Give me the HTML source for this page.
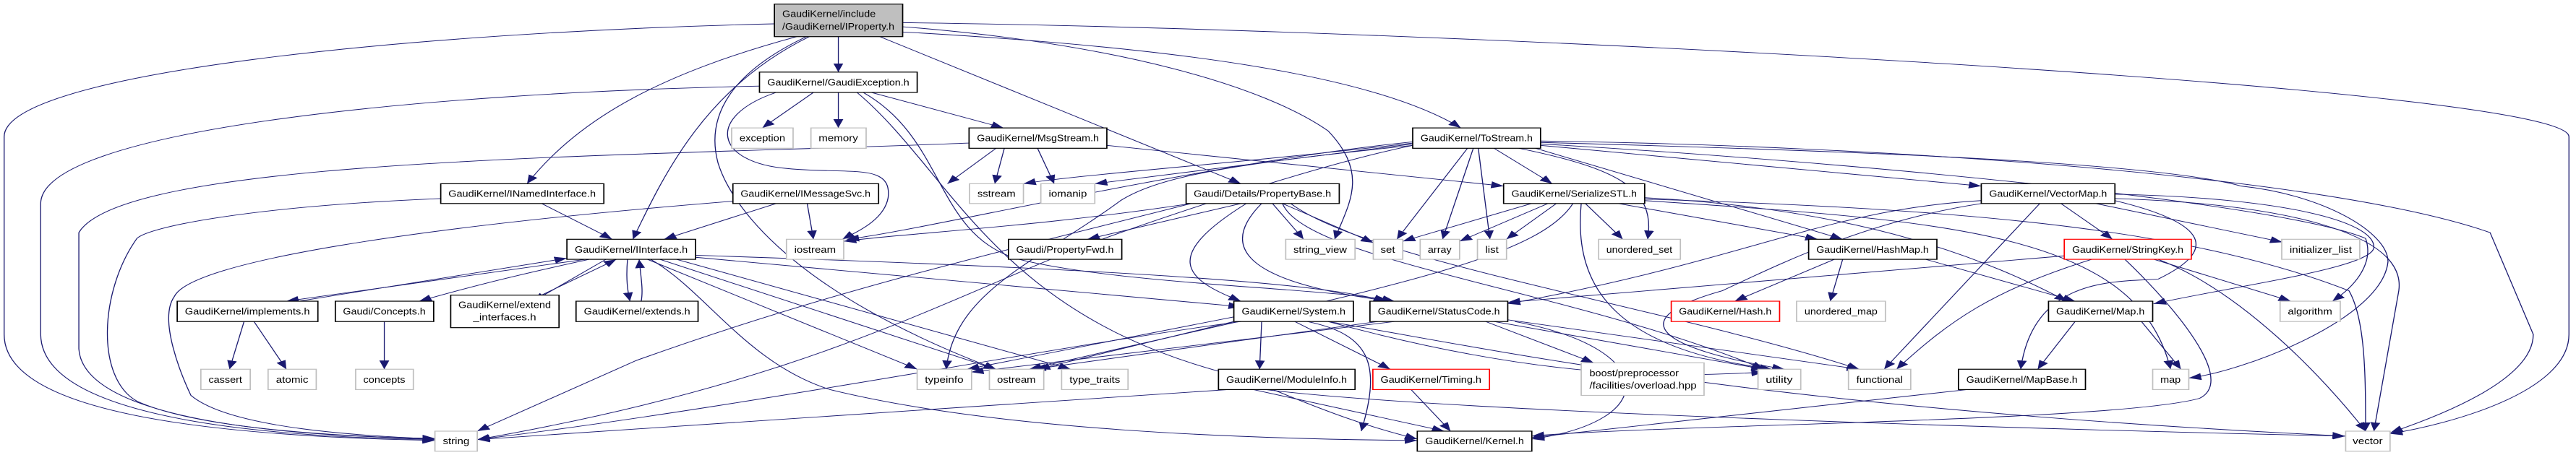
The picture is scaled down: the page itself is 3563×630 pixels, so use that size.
<!DOCTYPE html>
<html><head><meta charset="utf-8"><style>
html,body{margin:0;padding:0;background:#fff;}
svg{display:block}
text{font-family:"Liberation Sans",sans-serif;font-size:31px;fill:#000}
</style></head><body>
<svg width="3563" height="630" viewBox="0 0 6207 1565" preserveAspectRatio="none" xmlns="http://www.w3.org/2000/svg">
<defs><marker id="a" markerUnits="userSpaceOnUse" markerWidth="30" markerHeight="24" viewBox="0 0 10 8" refX="10" refY="4" orient="auto"><path d="M0,0 L10,4 L0,8 z" fill="#191970"/></marker></defs>
<g fill="none" stroke="#191970" stroke-width="2.3" marker-end="url(#a)">
<path d="M2020,126 L2020,248"/>
<path d="M1866,82 C1000,110 10,250 10,470 L10,1150 C10,1420 500,1500 1048,1515"/>
<path d="M2175,78 C3500,100 6190,300 6190,470 L6190,1150 C6190,1350 5900,1460 5759,1492"/>
<path d="M1920,126 C1600,250 1400,400 1270,632"/>
<path d="M1950,126 C1700,300 1600,600 1525,823"/>
<path d="M2120,126 L2990,632"/>
<path d="M2175,110 C2800,160 3300,250 3520,440"/>
<path d="M2175,92 C2700,150 3050,300 3200,450 C3300,600 3250,700 3216,823"/>
<path d="M1943,126 C1760,250 1700,400 1730,560 C1760,700 1900,1000 2400,1270"/>
<path d="M1830,296 C1000,320 100,450 98,700 L98,1150 C100,1400 500,1500 1048,1512"/>
<path d="M1960,318 L1837,440"/>
<path d="M2020,318 L2020,440"/>
<path d="M2100,318 L2418,440"/>
<path d="M1870,318 C1700,400 1720,560 1900,580 C2050,600 2150,560 2140,680 C2130,760 2060,800 2030,823"/>
<path d="M2080,318 C2280,480 2250,800 2450,890 C2700,980 3200,990 3360,1036"/>
<path d="M2065,318 C2300,600 2400,1100 3000,1300 C3200,1420 3300,1470 3415,1510"/>
<path d="M2420,510 L2397,632"/>
<path d="M2500,510 L2540,632"/>
<path d="M2400,510 L2283,632"/>
<path d="M2335,492 C1500,540 300,540 190,800 L190,1200 C200,1420 600,1500 1048,1508"/>
<path d="M2667,500 L3623,640"/>
<path d="M1870,700 L1600,823"/>
<path d="M1945,700 L1960,823"/>
<path d="M1766,692 C1000,780 460,900 420,1020 C380,1100 440,1300 460,1360 C560,1480 900,1500 1048,1510"/>
<path d="M1305,700 L1475,823"/>
<path d="M1062,683 C600,710 360,780 330,820 C240,1000 230,1300 330,1380 C500,1490 900,1500 1048,1512"/>
<path d="M1420,890 L690,1036"/>
<path d="M720,1036 L1366,888"/>
<path d="M1420,892 C1200,960 1100,1000 1010,1036"/>
<path d="M1460,892 L1285,1036"/>
<path d="M1305,1015 L1485,892"/>
<path d="M1512,892 C1508,960 1512,1000 1518,1036"/>
<path d="M1545,1036 C1550,1000 1545,960 1540,892"/>
<path d="M2870,700 C2400,870 2000,1000 1533,1240 L1150,1483"/>
<path d="M1560,892 L2210,1270"/>
<path d="M1590,892 L2400,1270"/>
<path d="M1630,892 L2580,1270"/>
<path d="M1676,885 L2990,1055"/>
<path d="M1676,878 C2800,930 3200,980 3340,1036"/>
<path d="M1568,892 C1700,1000 1800,1250 2000,1340 C2400,1480 3000,1510 3415,1515"/>
<path d="M2870,700 C2500,780 2200,800 2033,830"/>
<path d="M2990,700 L2620,823"/>
<path d="M3066,700 L3141,823"/>
<path d="M3090,700 L3309,835"/>
<path d="M3003,700 C2800,880 2850,960 2990,1036"/>
<path d="M3040,700 C2900,900 3100,990 3350,1036"/>
<path d="M3090,700 C3150,900 3800,1000 4250,1270"/>
<path d="M3110,700 C3300,900 4000,1050 4480,1270"/>
<path d="M3404,500 C3000,560 2800,600 2700,690 C2500,900 2300,1000 2280,1270"/>
<path d="M3404,488 C2900,560 2200,800 2040,823"/>
<path d="M3404,492 C3000,560 2600,600 2466,632"/>
<path d="M3404,495 L2638,632"/>
<path d="M3536,510 L3366,823"/>
<path d="M3550,510 L3476,823"/>
<path d="M3562,510 L3590,823"/>
<path d="M3600,510 L3740,632"/>
<path d="M3660,510 C3900,580 3990,650 3970,823"/>
<path d="M3700,510 L4440,823"/>
<path d="M3712,500 L4774,640"/>
<path d="M3404,500 C3200,560 2900,700 2700,800 C2300,1000 2000,1300 1150,1512"/>
<path d="M3712,485 C4500,500 5600,600 6000,800 L6104,1150 C6104,1300 5900,1420 5760,1488"/>
<path d="M3712,490 C4500,520 5200,560 5400,640 C5600,670 5754,800 5754,900 C5740,1100 5400,1280 5274,1300"/>
<path d="M3712,495 C4500,560 5500,700 5700,820 C5720,900 5680,980 5620,1036"/>
<path d="M3690,700 L3380,830"/>
<path d="M3730,700 L3517,830"/>
<path d="M3750,700 L3630,823"/>
<path d="M3820,700 L3910,823"/>
<path d="M3900,700 L4380,823"/>
<path d="M3963,680 C4500,720 4800,900 4980,1036"/>
<path d="M3963,690 C4700,760 5150,800 5230,1270"/>
<path d="M3963,685 C4800,720 5300,800 5660,1000 C5700,1100 5700,1300 5700,1483"/>
<path d="M3790,700 C3700,900 3300,1000 2480,1270"/>
<path d="M3810,700 C3790,1000 3900,1200 4270,1270"/>
<path d="M4966,700 L5090,823"/>
<path d="M5050,700 L5500,833"/>
<path d="M5096,683 C5500,700 5800,800 5780,1000 L5720,1483"/>
<path d="M5096,690 C5300,760 5360,850 5200,960 C5100,970 4900,950 4869,1270"/>
<path d="M5096,668 C5500,680 5720,760 5720,850 C5720,920 5400,980 5189,1045"/>
<path d="M4915,700 L4540,1270"/>
<path d="M4774,690 C4400,720 4200,900 3633,1045"/>
<path d="M4774,700 C4500,760 4300,900 4150,1000 C3900,1100 4000,1200 4300,1270"/>
<path d="M5200,892 C5400,1000 5600,1300 5700,1483"/>
<path d="M5190,892 L5520,1036"/>
<path d="M5120,892 C5200,1000 5400,1300 5300,1370 C5100,1450 4000,1460 3691,1500"/>
<path d="M5040,892 C4800,1000 4700,1100 4570,1270"/>
<path d="M4974,880 L3633,1040"/>
<path d="M4420,892 L4180,1036"/>
<path d="M4440,892 L4410,1036"/>
<path d="M4640,892 L5000,1036"/>
<path d="M5000,1106 L4910,1270"/>
<path d="M5160,1106 L5255,1270"/>
<path d="M4740,1340 L3691,1505"/>
<path d="M3040,1106 L3035,1270"/>
<path d="M3120,1106 L3350,1270"/>
<path d="M3150,1106 C3300,1150 3330,1250 3280,1483"/>
<path d="M2990,1106 C2500,1200 1800,1400 1150,1512"/>
<path d="M2973,1090 L2330,1270"/>
<path d="M2990,1100 L2500,1270"/>
<path d="M3200,1106 C3700,1300 4000,1300 4250,1280"/>
<path d="M3200,1106 C3600,1200 4200,1400 5650,1500"/>
<path d="M3580,1106 L3840,1248"/>
<path d="M3600,1106 L4250,1270"/>
<path d="M3633,1100 L4480,1270"/>
<path d="M3360,1106 L2340,1280"/>
<path d="M3320,1106 L2490,1270"/>
<path d="M3650,1106 C4000,1200 4000,1450 3691,1510"/>
<path d="M2960,1340 L1150,1512"/>
<path d="M3020,1340 L3480,1483"/>
<path d="M3050,1340 C3500,1420 5000,1480 5652,1500"/>
<path d="M3400,1340 L3495,1483"/>
<path d="M588,1106 L553,1270"/>
<path d="M612,1106 L690,1270"/>
<path d="M926,1106 L926,1270"/>
</g>
<g stroke-width="3" fill="#fff">
<rect x="1866" y="14" width="309" height="112" fill="#bfbfbf" stroke="#000"/>
<rect x="1830" y="248" width="380" height="70" stroke="#000"/>
<rect x="1763" y="440" width="148" height="70" stroke="#bfbfbf"/>
<rect x="1954" y="440" width="133" height="70" stroke="#bfbfbf"/>
<rect x="2335" y="440" width="332" height="70" stroke="#000"/>
<rect x="3404" y="440" width="308" height="70" stroke="#000"/>
<rect x="1062" y="632" width="393" height="68" stroke="#000"/>
<rect x="1766" y="632" width="351" height="68" stroke="#000"/>
<rect x="2336" y="632" width="130" height="68" stroke="#bfbfbf"/>
<rect x="2508" y="632" width="130" height="68" stroke="#bfbfbf"/>
<rect x="2858" y="632" width="369" height="68" stroke="#000"/>
<rect x="3623" y="632" width="340" height="68" stroke="#000"/>
<rect x="4774" y="632" width="322" height="68" stroke="#000"/>
<rect x="1366" y="823" width="310" height="69" stroke="#000"/>
<rect x="1895" y="823" width="138" height="69" stroke="#bfbfbf"/>
<rect x="2430" y="823" width="273" height="69" stroke="#000"/>
<rect x="3098" y="823" width="167" height="69" stroke="#bfbfbf"/>
<rect x="3309" y="823" width="71" height="69" stroke="#bfbfbf"/>
<rect x="3422" y="823" width="95" height="69" stroke="#bfbfbf"/>
<rect x="3560" y="823" width="70" height="69" stroke="#bfbfbf"/>
<rect x="3852" y="823" width="197" height="69" stroke="#bfbfbf"/>
<rect x="4358" y="823" width="309" height="69" stroke="#000"/>
<rect x="4974" y="823" width="306" height="69" stroke="#ff0000"/>
<rect x="5498" y="823" width="188" height="69" stroke="#bfbfbf"/>
<rect x="427" y="1036" width="339" height="70" stroke="#000"/>
<rect x="808" y="1036" width="237" height="70" stroke="#000"/>
<rect x="1086" y="1015" width="261" height="112" stroke="#000"/>
<rect x="1388" y="1036" width="294" height="70" stroke="#000"/>
<rect x="2973" y="1036" width="288" height="70" stroke="#000"/>
<rect x="3301" y="1036" width="332" height="70" stroke="#000"/>
<rect x="4027" y="1036" width="261" height="70" stroke="#ff0000"/>
<rect x="4329" y="1036" width="214" height="70" stroke="#bfbfbf"/>
<rect x="4936" y="1036" width="251" height="70" stroke="#000"/>
<rect x="5494" y="1036" width="145" height="70" stroke="#bfbfbf"/>
<rect x="484" y="1270" width="119" height="70" stroke="#bfbfbf"/>
<rect x="646" y="1270" width="116" height="70" stroke="#bfbfbf"/>
<rect x="857" y="1270" width="139" height="70" stroke="#bfbfbf"/>
<rect x="2210" y="1270" width="131" height="70" stroke="#bfbfbf"/>
<rect x="2384" y="1270" width="131" height="70" stroke="#bfbfbf"/>
<rect x="2558" y="1270" width="160" height="70" stroke="#bfbfbf"/>
<rect x="2936" y="1270" width="329" height="70" stroke="#000"/>
<rect x="3308" y="1270" width="281" height="70" stroke="#ff0000"/>
<rect x="3810" y="1248" width="296" height="112" stroke="#bfbfbf"/>
<rect x="4236" y="1270" width="103" height="70" stroke="#bfbfbf"/>
<rect x="4454" y="1270" width="150" height="70" stroke="#bfbfbf"/>
<rect x="4719" y="1270" width="306" height="70" stroke="#000"/>
<rect x="5187" y="1270" width="87" height="70" stroke="#bfbfbf"/>
<rect x="1048" y="1483" width="102" height="69" stroke="#bfbfbf"/>
<rect x="3415" y="1483" width="276" height="69" stroke="#000"/>
<rect x="5652" y="1483" width="107" height="69" stroke="#bfbfbf"/>
</g>
<g text-anchor="middle" lengthAdjust="spacingAndGlyphs">
<text x="1885" y="59" text-anchor="start" textLength="225" lengthAdjust="spacingAndGlyphs">GaudiKernel/include</text>
<text x="1885" y="102" text-anchor="start" textLength="270" lengthAdjust="spacingAndGlyphs">/GaudiKernel/IProperty.h</text>
<text x="2020" y="294" textLength="342" lengthAdjust="spacingAndGlyphs">GaudiKernel/GaudiException.h</text>
<text x="1837" y="486" textLength="110" lengthAdjust="spacingAndGlyphs">exception</text>
<text x="2020" y="486" textLength="95" lengthAdjust="spacingAndGlyphs">memory</text>
<text x="2501" y="486" textLength="294" lengthAdjust="spacingAndGlyphs">GaudiKernel/MsgStream.h</text>
<text x="3558" y="486" textLength="270" lengthAdjust="spacingAndGlyphs">GaudiKernel/ToStream.h</text>
<text x="1258" y="677" textLength="355" lengthAdjust="spacingAndGlyphs">GaudiKernel/INamedInterface.h</text>
<text x="1941" y="677" textLength="313" lengthAdjust="spacingAndGlyphs">GaudiKernel/IMessageSvc.h</text>
<text x="2401" y="677" textLength="92" lengthAdjust="spacingAndGlyphs">sstream</text>
<text x="2573" y="677" textLength="92" lengthAdjust="spacingAndGlyphs">iomanip</text>
<text x="3042" y="677" textLength="331" lengthAdjust="spacingAndGlyphs">Gaudi/Details/PropertyBase.h</text>
<text x="3793" y="677" textLength="302" lengthAdjust="spacingAndGlyphs">GaudiKernel/SerializeSTL.h</text>
<text x="4935" y="677" textLength="284" lengthAdjust="spacingAndGlyphs">GaudiKernel/VectorMap.h</text>
<text x="1521" y="869" textLength="272" lengthAdjust="spacingAndGlyphs">GaudiKernel/IInterface.h</text>
<text x="1964" y="869" textLength="100" lengthAdjust="spacingAndGlyphs">iostream</text>
<text x="2566" y="869" textLength="235" lengthAdjust="spacingAndGlyphs">Gaudi/PropertyFwd.h</text>
<text x="3181" y="869" textLength="129" lengthAdjust="spacingAndGlyphs">string_view</text>
<text x="3344" y="869" textLength="35" lengthAdjust="spacingAndGlyphs">set</text>
<text x="3469" y="869" textLength="57" lengthAdjust="spacingAndGlyphs">array</text>
<text x="3595" y="869" textLength="32" lengthAdjust="spacingAndGlyphs">list</text>
<text x="3950" y="869" textLength="159" lengthAdjust="spacingAndGlyphs">unordered_set</text>
<text x="4512" y="869" textLength="271" lengthAdjust="spacingAndGlyphs">GaudiKernel/HashMap.h</text>
<text x="5127" y="869" textLength="268" lengthAdjust="spacingAndGlyphs">GaudiKernel/StringKey.h</text>
<text x="5592" y="869" textLength="150" lengthAdjust="spacingAndGlyphs">initializer_list</text>
<text x="596" y="1082" textLength="301" lengthAdjust="spacingAndGlyphs">GaudiKernel/implements.h</text>
<text x="926" y="1082" textLength="199" lengthAdjust="spacingAndGlyphs">Gaudi/Concepts.h</text>
<text x="1216" y="1060" textLength="223" lengthAdjust="spacingAndGlyphs">GaudiKernel/extend</text>
<text x="1216" y="1102" textLength="152" lengthAdjust="spacingAndGlyphs">_interfaces.h</text>
<text x="1535" y="1082" textLength="256" lengthAdjust="spacingAndGlyphs">GaudiKernel/extends.h</text>
<text x="3117" y="1082" textLength="250" lengthAdjust="spacingAndGlyphs">GaudiKernel/System.h</text>
<text x="3467" y="1082" textLength="294" lengthAdjust="spacingAndGlyphs">GaudiKernel/StatusCode.h</text>
<text x="4157" y="1082" textLength="223" lengthAdjust="spacingAndGlyphs">GaudiKernel/Hash.h</text>
<text x="4436" y="1082" textLength="176" lengthAdjust="spacingAndGlyphs">unordered_map</text>
<text x="5061" y="1082" textLength="213" lengthAdjust="spacingAndGlyphs">GaudiKernel/Map.h</text>
<text x="5566" y="1082" textLength="107" lengthAdjust="spacingAndGlyphs">algorithm</text>
<text x="543" y="1316" textLength="81" lengthAdjust="spacingAndGlyphs">cassert</text>
<text x="704" y="1316" textLength="78" lengthAdjust="spacingAndGlyphs">atomic</text>
<text x="926" y="1316" textLength="101" lengthAdjust="spacingAndGlyphs">concepts</text>
<text x="2275" y="1316" textLength="93" lengthAdjust="spacingAndGlyphs">typeinfo</text>
<text x="2449" y="1316" textLength="93" lengthAdjust="spacingAndGlyphs">ostream</text>
<text x="2638" y="1316" textLength="122" lengthAdjust="spacingAndGlyphs">type_traits</text>
<text x="3100" y="1316" textLength="291" lengthAdjust="spacingAndGlyphs">GaudiKernel/ModuleInfo.h</text>
<text x="3448" y="1316" textLength="243" lengthAdjust="spacingAndGlyphs">GaudiKernel/Timing.h</text>
<text x="3830" y="1294" text-anchor="start" textLength="215" lengthAdjust="spacingAndGlyphs">boost/preprocessor</text>
<text x="3830" y="1337" text-anchor="start" textLength="258" lengthAdjust="spacingAndGlyphs">/facilities/overload.hpp</text>
<text x="4287" y="1316" textLength="65" lengthAdjust="spacingAndGlyphs">utility</text>
<text x="4529" y="1316" textLength="112" lengthAdjust="spacingAndGlyphs">functional</text>
<text x="4872" y="1316" textLength="268" lengthAdjust="spacingAndGlyphs">GaudiKernel/MapBase.h</text>
<text x="5230" y="1316" textLength="49" lengthAdjust="spacingAndGlyphs">map</text>
<text x="1099" y="1528" textLength="64" lengthAdjust="spacingAndGlyphs">string</text>
<text x="3553" y="1528" textLength="238" lengthAdjust="spacingAndGlyphs">GaudiKernel/Kernel.h</text>
<text x="5705" y="1528" textLength="72" lengthAdjust="spacingAndGlyphs">vector</text>
</g>
</svg>
</body></html>
